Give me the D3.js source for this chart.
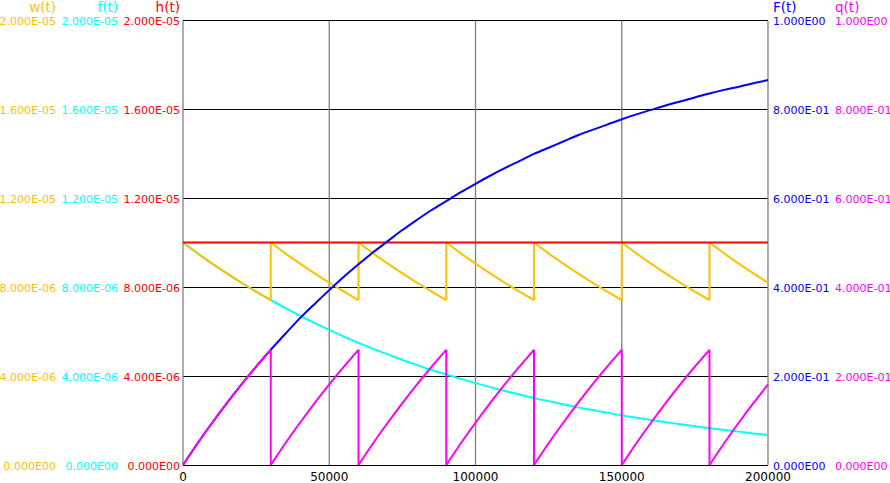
<!DOCTYPE html>
<html>
<head>
<meta charset="utf-8">
<script src="https://cdn.jsdelivr.net/npm/d3@7"></script>
<style>
  body { margin: 0; background: #fff; }
  svg { display: block; font-family: "DejaVu Sans", sans-serif; }
</style>
</head>
<body>
<svg id="viz"></svg>
<script>
// Set up dimensions
const width = 890;
const height = 483;

// Time grid for the smooth curves (every 5000)
const times = d3.range(0, 200001, 5000);

// f(t) values, units of 1e-6
const fValues = [10.00, 9.51, 9.05, 8.61, 8.19, 7.79, 7.41, 7.05, 6.70, 6.38,
  6.07, 5.77, 5.49, 5.22, 4.97, 4.72, 4.49, 4.27, 4.07, 3.87,
  3.68, 3.50, 3.33, 3.17, 3.01, 2.87, 2.73, 2.59, 2.47, 2.35,
  2.23, 2.12, 2.02, 1.92, 1.83, 1.74, 1.65, 1.57, 1.50, 1.42, 1.35];

// F(t) values
const FValues = [0, 0.049, 0.095, 0.139, 0.181, 0.221, 0.259, 0.295, 0.330, 0.362,
  0.393, 0.423, 0.451, 0.478, 0.503, 0.528, 0.551, 0.573, 0.593, 0.613,
  0.632, 0.650, 0.667, 0.683, 0.699, 0.713, 0.727, 0.741, 0.753, 0.765,
  0.777, 0.788, 0.798, 0.808, 0.817, 0.826, 0.835, 0.843, 0.850, 0.858, 0.865];

// h(t) is constant, units of 1e-6
const hTimes = [0, 200000];
const hValues = [10.0, 10.0];

// maintenance cycles: w(t) and q(t) restart every 30000
const cycleStarts = [0, 30000, 60000, 90000, 120000, 150000, 180000];
const cycleOffsets = [0, 5000, 10000, 15000, 20000, 25000, 30000];
const wCycle = [10.00, 9.51, 9.05, 8.61, 8.19, 7.79, 7.41]; // units of 1e-6
const qCycle = [0, 0.049, 0.095, 0.139, 0.181, 0.221, 0.259];

// ticks
const xTicks = [0, 50000, 100000, 150000, 200000];
const leftTicks = [0, 4e-6, 8e-6, 1.2e-5, 1.6e-5, 2e-5];
const rightTicks = [0, 0.2, 0.4, 0.6, 0.8, 1.0];

const colors = { w: "#ffc000", f: "#00ffff", h: "#ff0000", F: "#0000ff", q: "#ff00ff" };

const svg = d3.select("#viz").attr("width", width).attr("height", height);

// scales
const x = d3.scaleLinear().domain([0, 200000]).range([183, 768]);
const yLeft = d3.scaleLinear().domain([0, 2e-5]).range([465, 20]);
const yRight = d3.scaleLinear().domain([0, 1]).range([465, 20]);

// exponent format like 4.000E-06 / 0.000E00
function sci(v) {
  const parts = v.toExponential(3).split("e");
  let e = +parts[1];
  const sign = e < 0 ? "-" : "";
  e = Math.abs(e);
  return parts[0] + "E" + sign + (e < 10 ? "0" + e : "" + e);
}

// horizontal grid (black)
svg.append("g")
  .selectAll("line")
  .data(leftTicks)
  .join("line")
  .attr("x1", x(0)).attr("x2", x(200000))
  .attr("y1", (d) => Math.round(yLeft(d)) + 0.5)
  .attr("y2", (d) => Math.round(yLeft(d)) + 0.5)
  .attr("stroke", "#000")
  .attr("stroke-width", 1);

// vertical grid (gray)
svg.append("g")
  .selectAll("line")
  .data(xTicks)
  .join("line")
  .attr("x1", (d) => x(d)).attr("x2", (d) => x(d))
  .attr("y1", yLeft(2e-5) + 1).attr("y2", yLeft(0))
  .attr("stroke", "#808080")
  .attr("stroke-width", 1.3);

// x tick labels
svg.append("g")
  .selectAll("text")
  .data(xTicks)
  .join("text")
  .attr("x", (d) => x(d))
  .attr("y", 481)
  .attr("text-anchor", "middle")
  .attr("font-size", 12)
  .attr("fill", "#000")
  .text((d) => d);

// left axes: w, f, h
const leftAxes = [
  { name: "w(t)", color: colors.w, x: 56 },
  { name: "f(t)", color: colors.f, x: 118 },
  { name: "h(t)", color: colors.h, x: 180 },
];
leftAxes.forEach((a) => {
  svg.append("text")
    .attr("x", a.x).attr("y", 12)
    .attr("text-anchor", "end")
    .attr("font-size", 13.5)
    .attr("fill", a.color)
    .text(a.name);
  svg.append("g")
    .selectAll("text")
    .data(leftTicks)
    .join("text")
    .attr("x", a.x)
    .attr("y", (d) => yLeft(d) + 4.5)
    .attr("text-anchor", "end")
    .attr("font-size", 11)
    .attr("fill", a.color)
    .text((d) => sci(d));
});

// right axes: F, q
const rightAxes = [
  { name: "F(t)", color: colors.F, x: 773 },
  { name: "q(t)", color: colors.q, x: 835 },
];
rightAxes.forEach((a) => {
  svg.append("text")
    .attr("x", a.x).attr("y", 12)
    .attr("text-anchor", "start")
    .attr("font-size", 13.5)
    .attr("fill", a.color)
    .text(a.name);
  svg.append("g")
    .selectAll("text")
    .data(rightTicks)
    .join("text")
    .attr("x", a.x)
    .attr("y", (d) => yRight(d) + 4.5)
    .attr("text-anchor", "start")
    .attr("font-size", 11)
    .attr("fill", a.color)
    .text((d) => sci(d));
});

// line generators
const lineLeft = d3.line()
  .x((d) => x(d[0]))
  .y((d) => yLeft(d[1] * 1e-6))
  .curve(d3.curveMonotoneX);
const lineRight = d3.line()
  .x((d) => x(d[0]))
  .y((d) => yRight(d[1]))
  .curve(d3.curveMonotoneX);
const straightLeft = d3.line().x((d) => x(d[0])).y((d) => yLeft(d[1] * 1e-6));
const straightRight = d3.line().x((d) => x(d[0])).y((d) => yRight(d[1]));

const plot = svg.append("g").attr("fill", "none").attr("stroke-width", 2);

// f(t)
plot.append("path")
  .attr("d", lineLeft(times.map((t, i) => [t, fValues[i]])))
  .attr("stroke", colors.f);

// build cycle segments, clipped at 200000
function cycleSegments(values) {
  return cycleStarts.map((s) =>
    cycleOffsets
      .map((o, i) => [s + o, values[i]])
      .filter((p) => p[0] <= 200000)
  );
}

// w(t) sawtooth
const wSegs = cycleSegments(wCycle);
wSegs.forEach((seg, k) => {
  plot.append("path").attr("d", lineLeft(seg)).attr("stroke", colors.w);
  if (k < wSegs.length - 1) {
    const end = seg[seg.length - 1];
    plot.append("path")
      .attr("d", straightLeft([end, [end[0], wCycle[0]]]))
      .attr("stroke", colors.w);
  }
});

// h(t)
plot.append("path")
  .attr("d", straightLeft(hTimes.map((t, i) => [t, hValues[i]])))
  .attr("stroke", colors.h);

// F(t)
plot.append("path")
  .attr("d", lineRight(times.map((t, i) => [t, FValues[i]])))
  .attr("stroke", colors.F);

// q(t) sawtooth
const qSegs = cycleSegments(qCycle);
qSegs.forEach((seg, k) => {
  plot.append("path").attr("d", lineRight(seg)).attr("stroke", colors.q);
  if (k < qSegs.length - 1) {
    const end = seg[seg.length - 1];
    plot.append("path")
      .attr("d", straightRight([end, [end[0], qCycle[0]]]))
      .attr("stroke", colors.q);
  }
});
</script>
</body>
</html>
